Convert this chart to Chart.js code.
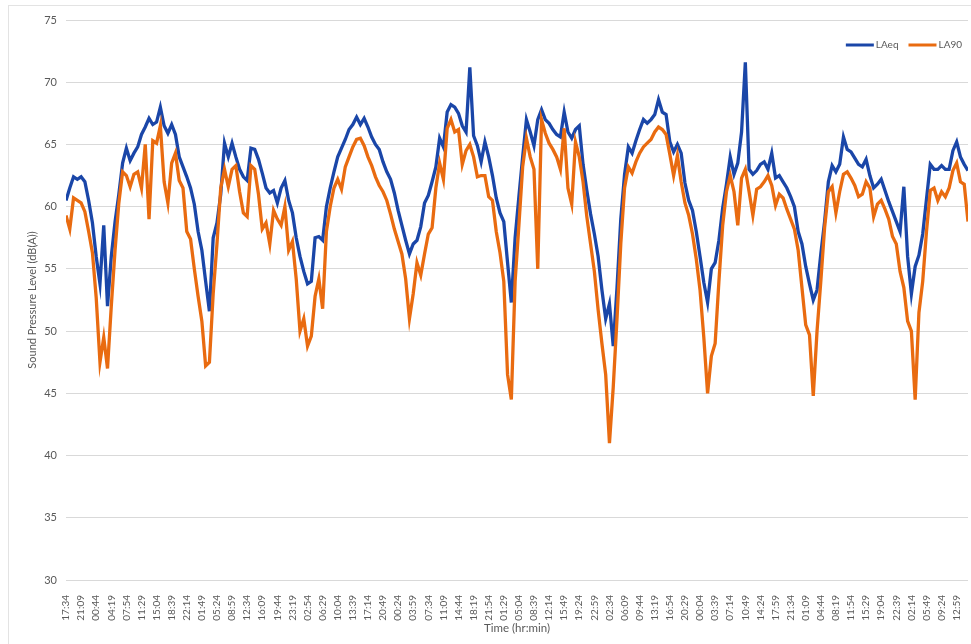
<!DOCTYPE html>
<html>
<head>
<meta charset="utf-8">
<script src="https://cdn.jsdelivr.net/npm/chart.js@4.4.1/dist/chart.umd.min.js"></script>
<style>
html,body{margin:0;padding:0;background:#fff;}
#wrap{position:relative;width:971px;height:644px;}
#frame{position:absolute;left:8px;top:5px;right:0;bottom:0;border-left:1px solid #e3e3e3;border-top:1px solid #e3e3e3;pointer-events:none;}
</style>
</head>
<body>
<div id="wrap"><canvas id="canvas" width="971" height="644"></canvas><div id="frame"></div></div>
<script>
// x axis labels, one every 3h35m
var tickLabels=['17:34','21:09','00:44','04:19','07:54','11:29','15:04','18:39','22:14','01:49',
	'05:24','08:59','12:34','16:09','19:44','23:19','02:54','06:29','10:04','13:39',
	'17:14','20:49','00:24','03:59','07:34','11:09','14:44','18:19','21:54','01:29',
	'05:04','08:39','12:14','15:49','19:24','22:59','02:34','06:09','09:44','13:19',
	'16:54','20:29','00:04','03:39','07:14','10:49','14:24','17:59','21:34','01:09',
	'04:44','08:19','11:54','15:29','19:04','22:39','02:14','05:49','09:24','12:59'];
var pointsPerTick=4;

// LAeq readings (dB(A))
var laeq=[60.5,61.5,62.4,62.2,62.4,62,60.5,58.7,56,53.8,58.5,52,56,58.8,61,63.5,64.7,63.7,64.3,64.8,
	65.8,66.4,67.1,66.6,66.8,68,66.5,65.9,66.6,65.8,64,63.2,62.4,61.5,60.2,58,56.5,54,51.6,57.5,
	58.7,61,65.1,64,65.1,64,63,62.4,62.1,64.7,64.6,63.8,62.7,61.5,61.1,61.3,60.3,61.5,62.1,60.5,
	59.5,57.5,56,54.8,53.8,54,57.5,57.6,57.3,60,61.5,62.8,64,64.7,65.4,66.2,66.6,67.2,66.6,67.1,
	66.4,65.6,65,64.6,63.6,62.8,62.2,61.1,59.7,58.5,57.3,56.2,57,57.3,58.4,60.3,60.9,62,63.2,65.5,
	64.8,67.6,68.2,68,67.5,66.5,66,71.2,65.7,64.9,63.6,65.2,64,62.5,60.7,59.5,58.8,55.5,52.3,57.5,
	60.8,64,67,66,64.9,67,67.8,67,66.7,66.2,65.8,65.6,67.6,66,65.5,66.2,66.5,63.4,61.3,59.4,
	57.8,56,53.3,51,52.2,48.8,53.5,59,62.6,64.8,64.3,65.3,66.2,67,66.7,67,67.4,68.6,67.6,67.4,
	65.2,64.4,65,64.3,61.9,60.5,59.7,58,56,53.9,52.3,55,55.5,57.3,59.9,61.8,64,62.6,63.5,66,
	71.6,63,62.6,62.9,63.4,63.6,63,64.3,62.3,62.5,62,61.5,60.8,60,58,57,55.2,53.8,52.5,53.3,
	56.2,58.8,62,63.3,62.8,63.4,65.6,64.6,64.4,63.9,63.4,63.2,63.8,62.5,61.5,61.8,62.2,61.3,60.4,59.6,
	58.8,58,61.6,56,53,55.2,56.1,57.8,60.6,63.4,63,63,63.3,63,63,64.5,65.2,64,63.4,62.9];

// LA90 readings (dB(A))
var la90=[59.3,58.2,60.7,60.5,60.3,59.6,58,56.3,52.7,47.5,49.5,47,52,56.5,60.3,62.8,62.5,61.6,62.6,62.8,
	61.5,65,59,65.3,65.1,66.5,62,60.3,63.5,64.3,62.1,61.5,58,57.4,55,52.8,50.8,47.2,47.5,53,
	57,61.5,63,61.6,63,63.3,61.2,59.5,59.2,63.3,63,61,58.2,58.7,57,59.7,59,58.5,60,56.5,
	57.2,54.2,50,51,48.8,49.6,52.8,54.2,51.8,58,60,61.5,62.2,61.4,63.2,64,64.8,65.4,65.5,64.9,
	64,63.3,62.4,61.7,61.2,60.5,59.4,58.2,57.2,56.2,54.2,51,53,55.5,54.5,56.2,57.8,58.3,61.5,63.5,
	62.2,66.3,67,66,66.2,63.4,64.5,65,64,62.4,62.5,62.5,60.8,60.5,58,56.3,54,46.5,44.5,54,
	58.5,63.2,65.5,64,63,55,67,65.9,65.1,64.6,64,63,66.3,61.5,60.2,65.2,64,62,59.2,57,
	54.8,51.7,49,46.5,41,45.5,51,57,61.5,63.2,62.7,63.6,64.3,64.8,65.1,65.4,66,66.4,66.2,65.8,
	64.2,62.5,64.1,62,60.3,59.3,57.8,55.8,53.3,49.5,45,48,49,54,58.5,61.2,62.5,61.2,58.5,62.3,
	63,61.2,59.3,61.4,61.6,62,62.5,61.7,60.1,61,60.7,59.8,59,58.2,56.5,53.5,50.5,49.7,44.8,50,
	54,58.3,61.2,61.6,59.5,61.2,62.6,62.8,62.3,61.7,60.8,61,62,61.5,59.2,60.2,60.5,59.8,59,57.6,
	57,54.8,53.5,50.8,50,44.5,51.5,54,58,61.3,61.5,60.5,61.2,60.8,61.5,62.9,63.5,62,61.8,58.8];

var textColor='#595959';
var fontFamily='Lato, "Open Sans", sans-serif';

function toPoints(values){
	var pts=[];
	for(var i=0;i<values.length;i++){
		pts.push({x:i/pointsPerTick,y:values[i]});
	}
	return pts;
}

// small legend drawn inside the plot, top right
var insideLegend={
	id:'insideLegend',
	afterDraw:function(chart){
		var c=chart.ctx;
		var area=chart.chartArea;
		var sets=chart.data.datasets;
		var y=area.top+25;
		var x=area.right-6;
		c.save();
		c.font='10px '+fontFamily;
		c.textBaseline='middle';
		c.textAlign='left';
		for(var i=sets.length-1;i>=0;i--){
			var w=c.measureText(sets[i].label).width;
			x-=w;
			c.fillStyle=textColor;
			c.fillText(sets[i].label,x,y);
			x-=2;
			c.strokeStyle=sets[i].borderColor;
			c.lineWidth=3;
			c.beginPath();
			c.moveTo(x-28,y);
			c.lineTo(x,y);
			c.stroke();
			x-=28+10;
		}
		c.restore();
	}
};

var config={
	type:'line',
	data:{
		datasets:[
			{label:'LAeq',data:toPoints(laeq),borderColor:'#1a46a8',backgroundColor:'#1a46a8',borderWidth:3.3,pointRadius:0,tension:0,order:2},
			{label:'LA90',data:toPoints(la90),borderColor:'#e96b10',backgroundColor:'#e96b10',borderWidth:3.3,pointRadius:0,tension:0,order:1}
		]
	},
	options:{
		responsive:false,
		animation:false,
		layout:{padding:{top:20,right:3,left:0,bottom:0}},
		plugins:{
			legend:{display:false},
			tooltip:{enabled:false}
		},
		scales:{
			x:{
				type:'linear',
				min:0,
				max:(laeq.length-1)/pointsPerTick,
				grid:{display:false},
				border:{display:false},
				ticks:{
					stepSize:1,
					includeBounds:false,
					autoSkip:false,
					maxRotation:90,
					minRotation:90,
					padding:7,
					color:textColor,
					font:{family:fontFamily,size:10},
					callback:function(v){
						return tickLabels[v]!==undefined?tickLabels[v]:'';
					}
				},
				title:{display:true,text:'Time (hr:min)',color:textColor,font:{family:fontFamily,size:11.5},padding:{top:0,bottom:9}},
				afterFit:function(s){
					s.height=64;
					s.paddingLeft=0;
					s.paddingRight=0;
				}
			},
			y:{
				min:30,
				max:75,
				grid:{color:'#d9d9d9',drawTicks:false},
				border:{display:false},
				ticks:{stepSize:5,padding:9,color:textColor,font:{family:fontFamily,size:11}},
				title:{display:true,text:'Sound Pressure Level (dB(A))',color:textColor,font:{family:fontFamily,size:11},padding:{top:26,bottom:0}},
				afterFit:function(s){s.width=66;}
			}
		}
	},
	plugins:[insideLegend]
};

var ctx=document.getElementById('canvas').getContext('2d');
window.myLine=new Chart(ctx,config);
</script>
</body>
</html>
